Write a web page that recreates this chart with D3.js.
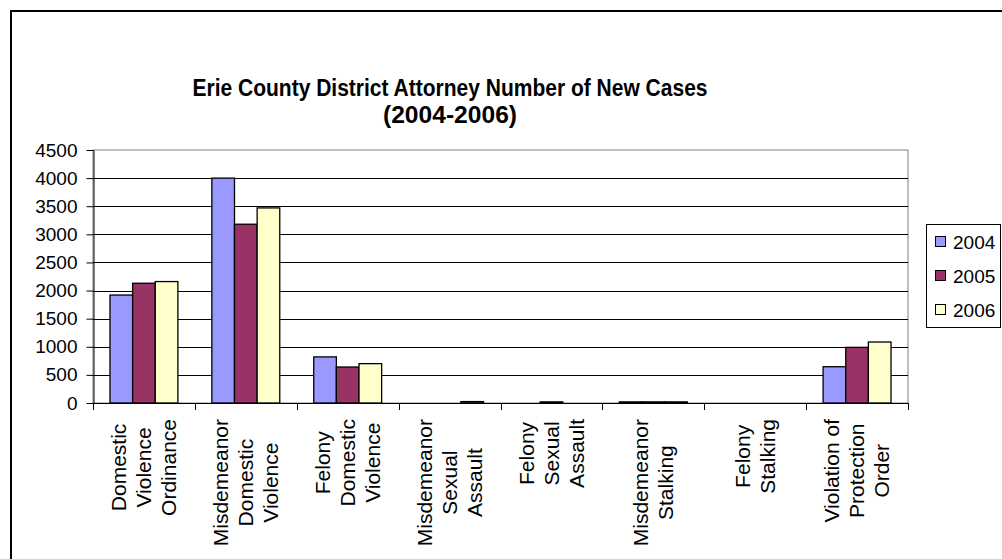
<!DOCTYPE html>
<html>
<head>
<meta charset="utf-8">
<script src="https://cdn.jsdelivr.net/npm/d3@7"></script>
<style>
  html, body { margin: 0; padding: 0; background: #fff; overflow: hidden; }
  svg { display: block; font-family: "Liberation Sans", Arial, sans-serif; }
</style>
</head>
<body>
<svg id="chart" width="1002" height="559"></svg>
<script>
const categories = [
  "Domestic Violence Ordinance",
  "Misdemeanor Domestic Violence",
  "Felony Domestic Violence",
  "Misdemeanor Sexual Assault",
  "Felony Sexual Assault",
  "Misdemeanor Stalking",
  "Felony Stalking",
  "Violation of Protection Order"
];
const categoryLines = [
  ["Domestic", "Violence", "Ordinance"],
  ["Misdemeanor", "Domestic", "Violence"],
  ["Felony", "Domestic", "Violence"],
  ["Misdemeanor", "Sexual", "Assault"],
  ["Felony", "Sexual", "Assault"],
  ["Misdemeanor", "Stalking"],
  ["Felony", "Stalking"],
  ["Violation of", "Protection", "Order"]
];
const years = ["2004", "2005", "2006"];
const values2004 = [1920, 4000, 820, 0, 0, 20, 0, 645];
const values2005 = [2130, 3180, 640, 0, 20, 20, 0, 990];
const values2006 = [2160, 3470, 700, 25, 0, 20, 0, 1085];
const yTicks = [0, 500, 1000, 1500, 2000, 2500, 3000, 3500, 4000, 4500];
const colors = ["#9999FF", "#993366", "#FFFFCC"];
const titleLines = ["Erie County District Attorney Number of New Cases", "(2004-2006)"];

const seriesValues = [values2004, values2005, values2006];
const svg = d3.select("#chart");

// outer chart border (extends beyond the visible window on right/bottom)
svg.append("rect").attr("x", 11).attr("y", 11).attr("width", 1010).attr("height", 570)
  .attr("fill", "#fff").attr("stroke", "#000").attr("stroke-width", 2);

const plot = { left: 93, right: 908, top: 150, bottom: 403 };

const x0 = d3.scaleBand().domain(categories).range([plot.left, plot.right]).paddingInner(0).paddingOuter(0);
const x1 = d3.scaleBand().domain(years).range([0, x0.bandwidth()]).paddingInner(0).paddingOuter(0.75);
const y = d3.scaleLinear().domain([0, 4500]).range([plot.bottom, plot.top]);

// plot area border (gray)
svg.append("rect").attr("x", plot.left).attr("y", plot.top)
  .attr("width", plot.right - plot.left).attr("height", plot.bottom - plot.top)
  .attr("fill", "#fff").attr("stroke", "#808080").attr("stroke-width", 1);

// gridlines
svg.append("g").selectAll("line").data(yTicks.filter(d => d > 0 && d < 4500)).join("line")
  .attr("x1", plot.left).attr("x2", plot.right)
  .attr("y1", d => Math.round(y(d)) + 0.5).attr("y2", d => Math.round(y(d)) + 0.5)
  .attr("stroke", "#000").attr("stroke-width", 1);

// bars
const groups = svg.append("g").selectAll("g").data(categories).join("g")
  .attr("transform", d => `translate(${x0(d)},0)`);
groups.selectAll("rect").data((c, i) => years.map((yr, s) => ({ yr, v: seriesValues[s][i], s })))
  .join("rect")
  .attr("x", d => x1(d.yr))
  .attr("width", x1.bandwidth())
  .attr("y", d => y(d.v))
  .attr("height", d => y(0) - y(d.v))
  .attr("fill", d => colors[d.s])
  .attr("stroke", "#000").attr("stroke-width", 1.3);

// Y axis
const yAxis = d3.axisLeft(y).tickValues(yTicks).tickFormat(d3.format("d"))
  .tickSize(7).tickSizeOuter(0).tickPadding(9);
const yg = svg.append("g").attr("transform", `translate(${plot.left + 0.5},0)`).call(yAxis);
yg.select(".domain").attr("stroke", "#000");
yg.selectAll(".tick line").attr("stroke", "#000");
yg.selectAll(".tick text").attr("font-size", 19).attr("fill", "#000")
  .attr("font-family", "Liberation Sans, Arial, sans-serif");

// X axis line and ticks at category boundaries
const xg = svg.append("g");
xg.append("line").attr("x1", plot.left).attr("x2", plot.right)
  .attr("y1", plot.bottom + 0.5).attr("y2", plot.bottom + 0.5).attr("stroke", "#000");
const boundaries = categories.map(c => x0(c)).concat([plot.right]);
xg.selectAll("line.tk").data(boundaries).join("line").attr("class", "tk")
  .attr("x1", d => Math.round(d) + 0.5).attr("x2", d => Math.round(d) + 0.5)
  .attr("y1", plot.bottom).attr("y2", plot.bottom + 7).attr("stroke", "#000");

// category labels (rotated, multi-line, centered)
const lh = 25;
categories.forEach((c, i) => {
  const lines = categoryLines[i];
  const cx = x0(c) + x0.bandwidth() / 2;
  const g = svg.append("g").attr("transform", `translate(${cx},419) rotate(-90)`);
  const texts = g.selectAll("text").data(lines).join("text")
    .attr("font-size", 21).attr("fill", "#000")
    .attr("text-anchor", "middle")
    .attr("dy", "0.35em")
    .text(d => d);
  let maxLen = 0;
  texts.each(function () { maxLen = Math.max(maxLen, this.getComputedTextLength()); });
  texts.attr("x", -maxLen / 2)
    .attr("y", (d, j) => (j - (lines.length - 1) / 2) * lh);
});

// title (condensed bold)
const titleWidths = [515, 134];
svg.append("g").selectAll("text").data(titleLines).join("text")
  .attr("x", 450).attr("y", (d, i) => 96 + i * 27)
  .attr("text-anchor", "middle").attr("font-size", 23).attr("font-weight", "bold")
  .attr("font-family", "'Liberation Sans Narrow', 'Liberation Sans', Arial, sans-serif")
  .attr("textLength", (d, i) => titleWidths[i]).attr("lengthAdjust", "spacingAndGlyphs")
  .attr("fill", "#000").text(d => d);

// legend
const legend = svg.append("g");
legend.append("rect").attr("x", 926.5).attr("y", 224.5).attr("width", 74).attr("height", 103)
  .attr("fill", "#fff").attr("stroke", "#000").attr("stroke-width", 1);
const li = legend.selectAll("g.item").data(years).join("g").attr("class", "item")
  .attr("transform", (d, i) => `translate(0,${242 + i * 34})`);
li.append("rect").attr("x", 935.5).attr("y", -5.5).attr("width", 10).attr("height", 10)
  .attr("fill", (d, i) => colors[i]).attr("stroke", "#000").attr("stroke-width", 1);
li.append("text").attr("x", 953).attr("y", 0).attr("dy", "0.35em")
  .attr("font-size", 19).attr("fill", "#000").text(d => d);
</script>
</body>
</html>
